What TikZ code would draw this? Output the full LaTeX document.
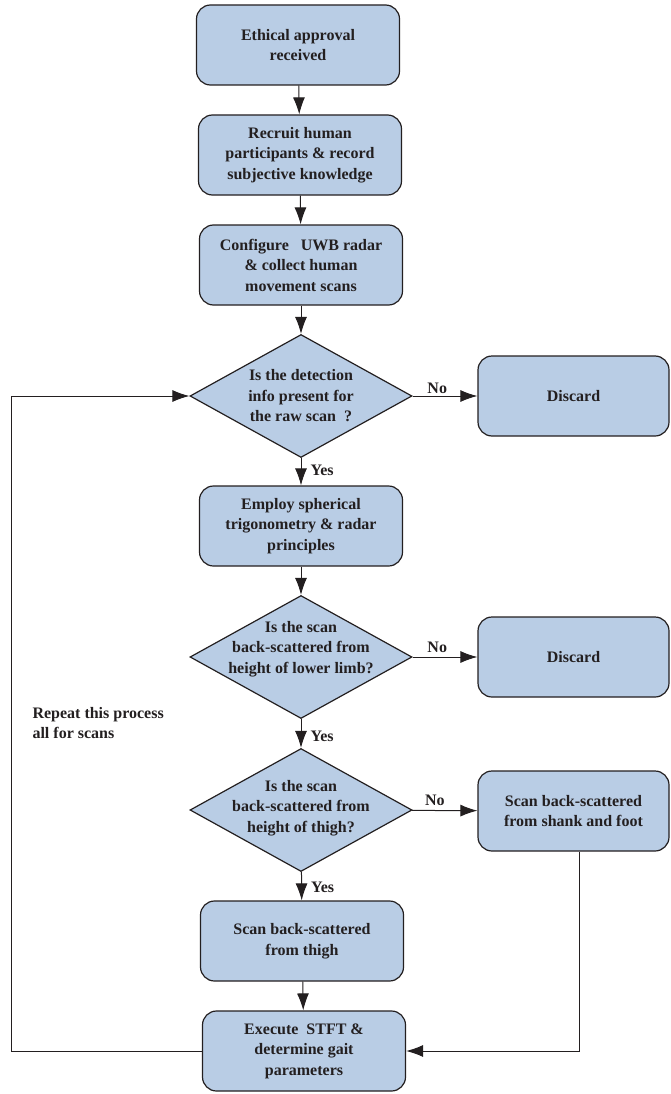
\documentclass[tikz,border=0pt]{standalone}
\usepackage{fontspec}
\setmainfont{Liberation Serif}
\usetikzlibrary{shapes.geometric,arrows.meta}
\definecolor{boxfill}{HTML}{B9CDE5}
\definecolor{edgec}{HTML}{231F20}
\begin{document}
\begin{tikzpicture}[x=1pt,y=-1pt,
  txt/.style={font=\bfseries\fontsize{16}{20.5}\selectfont, align=center, text=edgec},
  stepbox/.style={txt, draw=edgec, line width=1.2pt, fill=boxfill, rounded corners=14pt,
    minimum width=203pt, minimum height=80pt, inner sep=0pt},
  sidebox/.style={stepbox, minimum width=191pt},
  dia/.style={shape=diamond, draw=edgec, line width=1.2pt, fill=boxfill,
    minimum width=222pt, minimum height=123pt, inner sep=0pt},
  arr/.style={draw=edgec, line width=1pt, -{Latex[length=17pt,width=12pt]}},
  lbl/.style={txt, inner sep=2pt}
]
\useasboundingbox (0,0) rectangle (670,1094);

\node[stepbox] (eth) at (298,45) {Ethical approval\\received};
\node[stepbox] (rec) at (300,155) {Recruit human\\participants \& record\\subjective knowledge};
\node[stepbox] (cfg) at (301,265) {Configure\ \ \ UWB radar\\\& collect human\\movement scans};
\node[dia, label={[txt]center:{Is the detection\\info present for\\the raw scan\ \ ?}}] (d1) at (301,396) {};
\node[sidebox] (dis1) at (573.5,396) {Discard};
\node[stepbox] (emp) at (301,526) {Employ spherical\\trigonometry \& radar\\principles};
\node[dia, label={[txt, yshift=8pt]center:{Is the scan\\back-scattered from\\height of lower limb?}}] (d2) at (301,657) {};
\node[sidebox] (dis2) at (573.5,657) {Discard};
\node[dia, label={[txt, yshift=2pt]center:{Is the scan\\back-scattered from\\height of thigh?}}] (d3) at (301,810) {};
\node[sidebox] (shank) at (573.5,811) {Scan back-scattered\\from shank and foot};
\node[stepbox] (thigh) at (302,941) {Scan back-scattered\\from thigh};
\node[stepbox] (exec) at (304,1051) {Execute\ \ STFT \&\\determine gait\\parameters};

\node[txt, align=left, anchor=west] (rep) at (29,723) {Repeat this process\\all for scans};

\draw[arr] (eth) -- (rec);
\draw[arr] (rec) -- (cfg);
\draw[arr] (cfg) -- (d1);
\draw[arr] (d1) -- node[lbl, above, pos=0.38] {No} (dis1);
\draw[arr] (d1) -- node[lbl, right, pos=0.45, xshift=7pt] {Yes} (emp);
\draw[arr] (emp) -- (d2);
\draw[arr] (d2) -- node[lbl, above, pos=0.38, yshift=2pt] {No} (dis2);
\draw[arr] (d2) -- node[lbl, right, pos=0.6, xshift=7pt] {Yes} (d3);
\draw[arr] (d3) -- node[lbl, above, pos=0.35, yshift=2pt] {No} (shank);
\draw[arr] (d3) -- node[lbl, right, pos=0.55, xshift=7pt] {Yes} (thigh);
\draw[arr] (thigh) -- (exec);
\draw[arr] ([xshift=6pt]shank.south) |- (exec.east);
\draw[arr] (exec.west) -- ++(-190,0) |- (d1.west);
\end{tikzpicture}
\end{document}
